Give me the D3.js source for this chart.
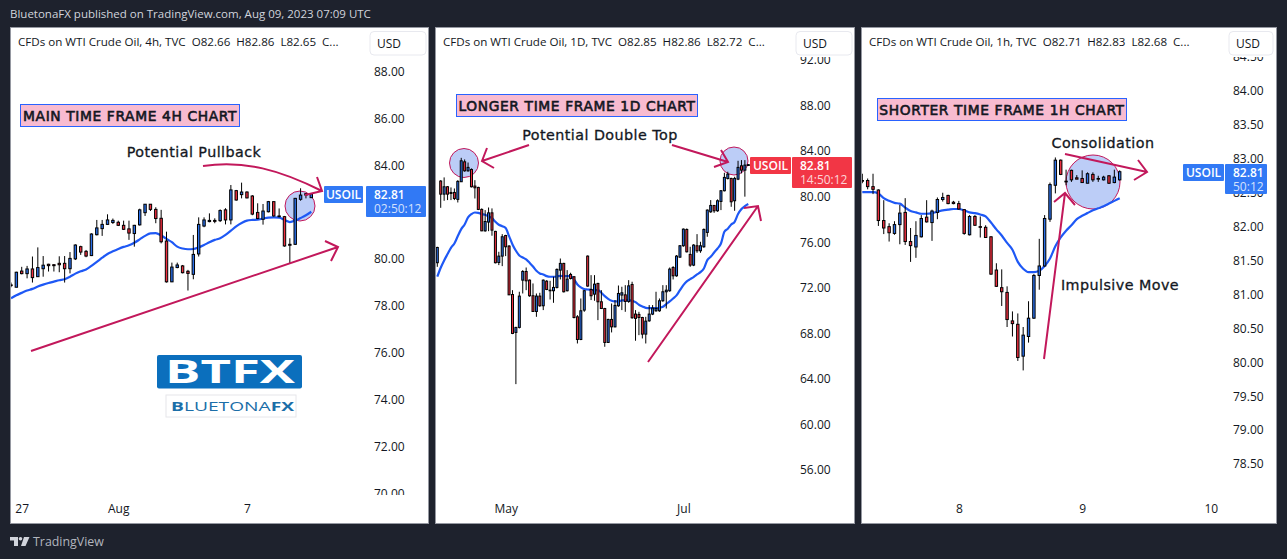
<!DOCTYPE html>
<html>
<head>
<meta charset="utf-8">
<script src="https://cdnjs.cloudflare.com/ajax/libs/d3/7.8.5/d3.min.js"></script>
<style>
    html, body { margin: 0; padding: 0; background: #1e222d; overflow: hidden; }
    text { font-family: "Open Sans", sans-serif; }
    .note { font-family: "DejaVu Sans", sans-serif; fill: #131722; }
    .legend { white-space: pre; }
</style>
</head>
<body>
<div id="chart"></div>
<script>
// candles are [open, high, low, close]
const candles4h = [[78.90,79.00,78.80,78.87],[78.80,79.46,78.80,79.44],[79.49,79.67,79.35,79.38],[79.38,79.71,79.18,79.58],[79.58,80.11,79.00,79.21],[79.25,80.50,79.24,79.64],[79.59,80.13,79.25,79.74],[79.78,79.80,79.47,79.72],[79.76,79.79,79.47,79.72],[79.82,80.12,79.44,79.76],[79.82,80.13,79.00,79.59],[79.59,80.30,79.39,80.03],[80.01,80.63,79.96,80.60],[80.53,80.57,80.18,80.30],[80.33,80.39,80.08,80.13],[80.15,81.10,80.13,81.07],[81.04,81.67,81.01,81.33],[81.30,81.67,80.99,81.48],[81.48,81.91,81.46,81.67],[81.56,81.73,81.50,81.65],[81.57,81.64,81.41,81.44],[81.44,81.64,81.24,81.27],[81.29,81.64,80.82,81.11],[81.09,81.46,80.53,81.44],[81.46,82.15,81.43,82.10],[81.98,82.35,81.84,82.34],[82.34,82.35,82.05,82.12],[82.12,82.21,81.53,81.73],[81.74,82.10,80.67,80.74],[80.77,81.17,79.00,79.03],[79.03,79.85,79.02,79.66],[79.64,79.85,79.61,79.75],[79.71,79.75,79.39,79.42],[79.48,79.54,78.66,79.39],[79.35,81.03,79.14,80.20],[80.22,81.78,80.11,81.48],[81.41,81.78,81.36,81.67],[81.60,81.95,81.57,81.65],[81.65,81.74,81.53,81.61],[81.64,82.12,81.58,82.07],[82.10,82.17,81.48,81.67],[81.67,83.16,81.48,82.95],[82.92,82.95,82.49,82.52],[82.75,83.26,82.59,82.86],[82.86,82.89,82.59,82.61],[82.69,82.73,81.87,81.92],[81.99,82.38,81.70,81.73],[81.70,82.35,81.47,82.05],[82.02,82.48,81.99,82.45],[82.45,82.46,81.81,81.84],[81.84,82.16,81.78,81.81],[81.81,81.84,80.53,80.56],[80.63,80.89,79.82,80.59],[80.63,82.61,80.60,82.59],[82.55,83.02,82.49,82.73],[82.79,82.81,82.59,82.73],[82.62,82.81,82.61,82.78]];
const ema4h = [78.33,78.46,78.56,78.66,78.73,78.83,78.91,78.98,79.04,79.10,79.14,79.25,79.38,79.48,79.56,79.71,79.88,80.06,80.22,80.33,80.43,80.52,80.59,80.70,80.84,80.99,81.10,81.11,81.01,80.86,80.72,80.53,80.45,80.42,80.43,80.50,80.60,80.72,80.82,80.89,81.03,81.21,81.40,81.54,81.64,81.67,81.68,81.73,81.77,81.78,81.77,81.67,81.58,81.64,81.75,81.87,82.02];
const priceTicks4h = [88, 86, 84, 80, 78, 76, 74, 72, 70];
const timeTickIndex4h = [2, 20, 44];
const timeTickLabels4h = ["27", "Aug", "7"];

const candles1d = [[74.20,75.60,73.84,75.54],[81.37,81.45,79.02,80.22],[80.22,81.69,79.64,80.87],[80.87,80.93,79.70,80.22],[80.37,80.81,79.70,80.28],[80.37,80.72,79.70,79.84],[79.76,81.45,79.49,81.34],[81.31,83.41,81.31,83.15],[83.06,83.27,82.19,82.27],[82.27,83.00,82.19,82.57],[82.39,82.48,80.81,80.87],[80.93,81.45,79.84,80.78],[80.81,80.87,78.82,78.88],[78.88,78.97,76.97,77.00],[77.00,78.82,76.92,77.82],[77.77,79.05,76.97,78.58],[78.58,78.97,76.57,77.06],[76.95,77.00,74.14,74.20],[74.22,75.16,73.99,74.78],[74.78,76.71,73.90,76.48],[76.59,76.65,74.78,75.60],[75.66,75.75,71.36,71.38],[71.41,71.79,67.93,67.99],[68.08,68.57,63.54,68.52],[68.52,71.65,68.43,71.27],[72.67,73.55,71.50,73.43],[73.43,73.78,71.79,72.61],[72.67,72.73,71.21,71.30],[71.30,72.38,69.89,69.92],[69.92,71.50,69.45,71.27],[71.27,71.56,70.33,70.42],[70.42,72.73,70.04,72.67],[72.58,72.67,71.79,71.85],[71.79,72.61,70.97,71.74],[71.74,72.97,70.68,72.03],[72.03,73.70,71.94,73.61],[73.55,74.57,72.73,74.14],[74.14,74.19,71.59,71.65],[71.74,73.55,71.68,72.76],[73.17,73.32,72.73,72.82],[72.97,73.02,69.31,69.39],[69.45,69.60,67.11,67.46],[67.46,71.06,67.40,69.98],[70.04,71.79,69.89,71.74],[74.78,74.84,72.09,72.15],[71.85,73.11,70.92,71.30],[71.44,73.11,70.86,72.32],[72.38,72.44,69.16,70.77],[70.77,71.79,70.13,70.18],[70.18,70.24,66.82,67.20],[67.20,69.28,67.17,69.22],[69.22,70.62,68.08,68.57],[68.57,70.92,68.52,70.45],[70.42,72.20,70.33,71.50],[71.36,72.09,70.04,71.56],[71.38,72.23,69.89,70.80],[70.80,72.67,70.68,72.17],[72.29,72.53,69.28,69.37],[69.69,70.04,67.35,69.31],[69.66,69.89,67.84,69.39],[69.39,69.45,67.55,67.93],[67.93,69.45,67.11,69.07],[69.10,70.48,69.01,69.69],[69.69,70.48,69.60,70.21],[69.98,71.65,69.89,70.18],[69.98,71.06,69.89,70.86],[70.86,72.23,70.77,71.65],[71.65,72.23,70.18,71.79],[71.74,73.78,71.65,73.64],[73.78,73.90,72.73,73.05],[73.05,74.87,72.97,74.78],[74.69,75.75,74.63,75.69],[75.69,77.21,75.60,77.15],[77.12,77.21,75.10,75.16],[74.93,75.60,73.84,73.99],[73.99,75.83,73.90,75.75],[75.69,76.71,75.07,75.25],[75.25,76.04,75.07,75.69],[75.60,77.21,75.51,77.12],[76.86,78.88,76.48,78.82],[78.67,79.70,78.58,79.23],[79.23,79.26,78.58,78.76],[78.76,79.76,78.67,79.64],[79.58,80.58,78.82,80.52],[80.52,82.10,80.46,81.69],[81.60,82.19,81.51,81.98],[81.60,81.66,79.11,79.55],[79.64,81.75,78.76,81.60],[81.54,83.15,81.45,82.57],[82.71,83.21,82.04,82.33],[82.33,83.21,80.00,82.77],[82.74,82.86,82.72,82.81]];
const ema1d = [72.97,73.76,74.40,74.96,75.51,75.89,76.54,77.15,77.56,78.18,78.47,78.61,78.58,78.47,78.41,78.26,78.12,77.79,77.53,77.41,77.24,76.54,75.80,75.25,74.84,74.66,74.49,74.19,73.87,73.49,73.26,73.17,73.02,72.97,72.97,72.99,73.05,73.02,73.02,73.02,72.73,72.29,72.03,71.88,71.85,71.82,71.79,71.79,71.56,71.27,71.03,70.86,70.80,70.80,70.89,70.89,70.92,70.86,70.74,70.51,70.36,70.24,70.21,70.21,70.21,70.24,70.33,70.57,70.80,71.06,71.33,71.79,72.23,72.56,72.76,72.94,73.17,73.37,73.70,74.43,74.72,75.10,75.45,75.89,76.92,77.18,77.56,77.79,78.47,78.91,79.17,79.35];
const priceTicks1d = [92, 88, 84, 80, 76, 72, 68, 64, 60, 56];
const timeTickIndex1d = [20, 72];
const timeTickLabels1d = ["May", "Jul"];

const candles1h = [[82.68,82.78,82.64,82.67],[82.68,82.71,82.55,82.59],[82.59,82.78,82.48,82.55],[82.54,82.55,82.01,82.09],[82.09,82.39,81.89,81.98],[82.00,82.05,81.78,81.91],[81.90,82.08,81.88,82.03],[82.03,82.32,81.74,82.20],[82.21,82.42,81.73,81.78],[81.78,81.98,81.48,81.72],[81.70,82.08,81.54,81.87],[81.85,82.17,81.84,82.12],[82.14,82.39,82.06,82.07],[82.06,82.25,81.79,82.23],[82.21,82.43,82.11,82.40],[82.40,82.50,82.37,82.43],[82.46,82.47,82.33,82.34],[82.36,82.38,82.33,82.34],[82.34,82.38,82.25,82.26],[82.25,82.26,81.88,81.90],[81.88,82.17,81.87,82.15],[82.15,82.17,82.01,82.02],[82.00,82.15,81.84,81.99],[81.99,82.02,81.84,81.84],[81.85,81.86,81.29,81.30],[81.36,81.46,81.11,81.12],[81.10,81.37,80.83,81.04],[81.03,81.12,80.52,80.63],[80.61,80.75,80.38,80.57],[80.56,80.72,80.02,80.07],[80.09,80.52,79.88,80.40],[80.38,80.90,80.29,80.65],[80.65,81.30,80.64,81.28],[81.28,81.82,81.07,81.42],[81.42,82.17,81.41,82.12],[82.11,82.65,82.07,82.62],[82.61,83.02,82.49,82.98],[82.98,82.99,82.76,82.77],[82.66,82.84,82.61,82.67],[82.83,82.84,82.66,82.69],[82.72,82.76,82.70,82.70],[82.71,82.83,82.65,82.65],[82.64,82.80,82.64,82.78],[82.77,82.80,82.66,82.69],[82.71,82.75,82.66,82.70],[82.69,82.75,82.68,82.73],[82.75,82.76,82.63,82.64],[82.65,82.84,82.64,82.73],[82.69,82.83,82.68,82.81]];
const ema1h = [82.51,82.51,82.51,82.49,82.42,82.38,82.35,82.34,82.28,82.23,82.21,82.19,82.19,82.20,82.22,82.24,82.25,82.26,82.26,82.24,82.21,82.20,82.18,82.15,82.06,81.96,81.87,81.76,81.66,81.48,81.38,81.33,81.33,81.35,81.42,81.53,81.71,81.84,81.94,82.02,82.11,82.16,82.20,82.24,82.27,82.30,82.34,82.38,82.42];
const priceTicks1h = [84.5, 84, 83.5, 83, 82.5, 82, 81.5, 81, 80.5, 80, 79.5, 79, 78.5];
const timeTickIndex1h = [18, 41, 65];
const timeTickLabels1h = ["8", "9", "10"];

const width = 1287,
    height = 559;

const blue = "#2962ff",
    emaBlue = "#1e58f5",
    candleBlue = "#2a6fe8",
    candleRed = "#ef2f3f",
    red = "#f23645",
    arrowColor = "#c2185b",
    circleFill = "#bccdf7";

// create svg
const svg = d3.select("#chart")
    .append("svg")
    .attr("width", width)
    .attr("height", height)
    .style("display", "block");

svg.append("text")
    .attr("x", 10)
    .attr("y", 18)
    .attr("font-size", 11.5)
    .attr("fill", "#d1d4dc")
    .text("BluetonaFX published on TradingView.com, Aug 09, 2023 07:09 UTC");

// one TradingView pane
function drawPane(p, i) {
    const g = svg.append("g").attr("class", "pane");

    g.append("rect")
        .attr("x", p.left + 0.5)
        .attr("y", 27.5)
        .attr("width", p.right - p.left - 1)
        .attr("height", 496)
        .attr("fill", "#fff")
        .attr("stroke", "#9598a1");

    const xScale = d3.scaleLinear()
        .domain([0, p.candles.length - 1])
        .range(p.xRange);

    const yScale = d3.scaleLinear()
        .domain(p.yDomain)
        .range(p.yRange);

    const clipId = "clip-" + i;
    svg.append("clipPath")
        .attr("id", clipId)
        .append("rect")
        .attr("x", p.left + 1)
        .attr("y", 57)
        .attr("width", p.right - p.left - 2)
        .attr("height", 438);

    // highlight circles sit under the candles
    const plot = g.append("g").attr("clip-path", `url(#${clipId})`);
    p.circles.forEach(c => {
        plot.append("circle")
            .attr("cx", c[0])
            .attr("cy", c[1])
            .attr("r", c[2])
            .attr("fill", circleFill)
            .attr("stroke", arrowColor)
            .attr("stroke-width", 1);
    });

    // ema
    const line = d3.line()
        .x((d, j) => xScale(j))
        .y(d => yScale(d))
        .curve(d3.curveMonotoneX);
    plot.append("path")
        .attr("d", line(p.ema))
        .attr("fill", "none")
        .attr("stroke", emaBlue)
        .attr("stroke-width", 2.2);

    // candles
    const candle = plot.selectAll(".candle")
        .data(p.candles)
        .enter()
        .append("g")
        .attr("class", "candle");
    candle.append("line")
        .attr("x1", (d, j) => xScale(j))
        .attr("x2", (d, j) => xScale(j))
        .attr("y1", d => yScale(d[1]))
        .attr("y2", d => yScale(d[2]))
        .attr("stroke", "#000")
        .attr("stroke-width", 1);
    candle.append("rect")
        .attr("x", (d, j) => xScale(j) - p.bodyWidth / 2)
        .attr("y", d => yScale(Math.max(d[0], d[3])))
        .attr("width", p.bodyWidth)
        .attr("height", d => Math.max(0.6, Math.abs(yScale(d[0]) - yScale(d[3]))))
        .attr("fill", d => d[3] >= d[0] ? candleBlue : candleRed)
        .attr("stroke", "#000")
        .attr("stroke-width", 1);

    // axes
    const yAxis = d3.axisRight(yScale)
        .tickValues(p.priceTicks)
        .tickFormat(d3.format(".2f"))
        .tickSize(0)
        .tickPadding(0);
    const yGroup = g.append("g")
        .attr("clip-path", `url(#${clipId})`)
        .append("g")
        .attr("transform", `translate(${p.axisX},0)`)
        .call(yAxis);
    yGroup.select(".domain").remove();
    yGroup.selectAll("text")
        .attr("font-size", 12)
        .attr("font-family", "Open Sans")
        .attr("fill", "#131722");

    const xAxis = d3.axisBottom(xScale)
        .tickValues(p.timeIndex)
        .tickFormat((d, j) => p.timeLabels[j])
        .tickSize(0)
        .tickPadding(0);
    const xGroup = g.append("g")
        .attr("transform", "translate(0,504)")
        .call(xAxis);
    xGroup.select(".domain").remove();
    xGroup.selectAll("text")
        .attr("font-size", 12)
        .attr("font-family", "Open Sans")
        .attr("fill", "#131722");

    // legend line
    g.append("text")
        .attr("class", "legend")
        .attr("x", p.legendX)
        .attr("y", 46)
        .attr("font-size", 11.6)
        .attr("fill", "#131722")
        .text(p.legend);

    // currency button
    g.append("rect")
        .attr("x", p.usd[0])
        .attr("y", 31.5)
        .attr("width", p.usd[1])
        .attr("height", 23.5)
        .attr("rx", 4)
        .attr("fill", "#fff")
        .attr("stroke", "#e8e9ef");
    g.append("text")
        .attr("x", p.usd[2])
        .attr("y", 48)
        .attr("text-anchor", "middle")
        .attr("font-size", 12)
        .attr("fill", "#131722")
        .text("USD");

    // title box
    g.append("rect")
        .attr("x", p.title[0])
        .attr("y", p.title[1])
        .attr("width", p.title[2])
        .attr("height", 22)
        .attr("fill", "#f8bbd0")
        .attr("stroke", blue)
        .attr("stroke-width", 1);
    g.append("text")
        .attr("class", "note")
        .attr("x", p.title[0] + p.title[2] / 2)
        .attr("y", p.title[1] + 16)
        .attr("text-anchor", "middle")
        .attr("font-size", 13.8)
        .attr("letter-spacing", 0.62)
        .attr("stroke", "#131722")
        .attr("stroke-width", 0.6)
        .text(p.titleText);

    // notes
    p.notes.forEach(n => {
        g.append("text")
            .attr("class", "note")
            .attr("x", n[1])
            .attr("y", n[2])
            .attr("text-anchor", "middle")
            .attr("font-size", 14.3)
            .attr("letter-spacing", 0.45)
            .attr("stroke", "#131722")
            .attr("stroke-width", 0.3)
            .text(n[0]);
    });

    // arrows, each one a shaft and a head
    p.arrows.forEach(a => {
        g.append("path")
            .attr("d", a)
            .attr("fill", "none")
            .attr("stroke", arrowColor)
            .attr("stroke-width", 2);
    });

    // last price tags
    const tagColor = p.tag.color;
    g.append("rect")
        .attr("x", p.tag.name[0])
        .attr("y", p.tag.y)
        .attr("width", p.tag.name[1])
        .attr("height", 17)
        .attr("rx", 1)
        .attr("fill", tagColor);
    g.append("text")
        .attr("x", p.tag.name[0] + p.tag.name[1] / 2)
        .attr("y", p.tag.y + 13)
        .attr("text-anchor", "middle")
        .attr("font-size", 12)
        .attr("font-weight", 600)
        .attr("fill", "#fff")
        .text("USOIL");
    g.append("rect")
        .attr("x", p.tag.price[0])
        .attr("y", p.tag.y)
        .attr("width", p.tag.price[1])
        .attr("height", p.tag.height)
        .attr("rx", 1)
        .attr("fill", tagColor);
    g.append("text")
        .attr("x", p.axisX)
        .attr("y", p.tag.y + 13)
        .attr("font-size", 12)
        .attr("font-weight", 600)
        .attr("fill", "#fff")
        .text("82.81");
    g.append("text")
        .attr("x", p.axisX)
        .attr("y", p.tag.y + 27)
        .attr("font-size", 12)
        .attr("fill", "#fff")
        .attr("fill-opacity", 0.8)
        .text(p.tag.timer);
}

const panes = [
    {
        left: 10, right: 429, candles: candles4h, ema: ema4h,
        xRange: [11, 311.3], yDomain: [88, 70], yRange: [71.5, 493.6],
        priceTicks: priceTicks4h, timeIndex: timeTickIndex4h, timeLabels: timeTickLabels4h,
        bodyWidth: 2.4, axisX: 374, legendX: 18,
        legend: "CFDs on WTI Crude Oil, 4h, TVC  O82.66  H82.86  L82.65  C...",
        usd: [370, 56, 389],
        title: [20.5, 104.5, 219], titleText: "MAIN TIME FRAME 4H CHART",
        notes: [["Potential Pullback", 194, 157]],
        circles: [[300, 206, 15]],
        arrows: [
            "M203,166 C245,160 280,170 322,191 M317,177 L322,191 L305,195",
            "M31,351 L338,247 M325,241 L338,247 L331,261"
        ],
        tag: { color: "#3179f5", y: 186, height: 31, name: [324, 39], price: [366, 60], timer: "02:50:12" }
    },
    {
        left: 435, right: 855, candles: candles1d, ema: ema1d,
        xRange: [437.3, 748.3], yDomain: [92, 56], yRange: [60, 470],
        priceTicks: priceTicks1d, timeIndex: timeTickIndex1d, timeLabels: timeTickLabels1d,
        bodyWidth: 2, axisX: 800, legendX: 443,
        legend: "CFDs on WTI Crude Oil, 1D, TVC  O82.85  H82.86  L82.72  C...",
        usd: [796, 56, 815],
        title: [456.5, 94.5, 241], titleText: "LONGER TIME FRAME 1D CHART",
        notes: [["Potential Double Top", 600, 140]],
        circles: [[464, 163, 14.5], [734, 161, 14]],
        arrows: [
            "M529,145 L482,161 M487,148 L482,161 L494,168",
            "M672,145 L728,162 M721,150 L728,162 L714,167",
            "M648,362 L758,206 M744,208 L758,206 L761,221"
        ],
        tag: { color: red, y: 157, height: 31, name: [750, 41], price: [792, 60], timer: "14:50:12" }
    },
    {
        left: 861, right: 1277, candles: candles1h, ema: ema1h,
        xRange: [862.3, 1119.7], yDomain: [84, 78.5], yRange: [91, 464],
        priceTicks: priceTicks1h, timeIndex: timeTickIndex1h, timeLabels: timeTickLabels1h,
        bodyWidth: 2.4, axisX: 1233, legendX: 869,
        legend: "CFDs on WTI Crude Oil, 1h, TVC  O82.71  H82.83  L82.68  C...",
        usd: [1229, 44, 1248],
        title: [877.5, 98.5, 249], titleText: "SHORTER TIME FRAME 1H CHART",
        notes: [["Consolidation", 1103, 148], ["Impulsive Move", 1120, 290]],
        circles: [[1093, 182, 27]],
        arrows: [
            "M1065,154 L1147,172 M1138,160 L1147,172 L1134,180",
            "M1044,359 L1065,193 M1054,202 L1065,193 L1075,205"
        ],
        tag: { color: "#3179f5", y: 164, height: 30, name: [1183, 41], price: [1225, 42], timer: "50:12" }
    }
];

panes.forEach(drawPane);

// brand logos on the first pane
const logo = svg.append("g");
logo.append("rect")
    .attr("x", 157).attr("y", 355)
    .attr("width", 145).attr("height", 33.5)
    .attr("rx", 2)
    .attr("fill", "#0b6fbd");
logo.append("text")
    .attr("x", 165).attr("y", 383)
    .attr("textLength", 130)
    .attr("lengthAdjust", "spacingAndGlyphs")
    .attr("font-size", 33)
    .attr("font-weight", 700)
    .attr("font-family", "Liberation Sans")
    .attr("fill", "#fff")
    .text("BTFX");
logo.append("rect")
    .attr("x", 166).attr("y", 395)
    .attr("width", 130).attr("height", 22)
    .attr("fill", "#fff")
    .attr("stroke", "#e6e6ea");
const logoText = logo.append("text")
    .attr("x", 171).attr("y", 411)
    .attr("textLength", 123)
    .attr("lengthAdjust", "spacingAndGlyphs")
    .attr("font-size", 13)
    .attr("font-family", "Liberation Sans")
    .attr("fill", "#1b6ea8");
logoText.append("tspan").attr("font-weight", 700).text("B");
logoText.append("tspan").text("LUETONA");
logoText.append("tspan").attr("font-weight", 700).text("FX");

// footer mark
const footer = svg.append("g");
footer.append("path")
    .attr("d", "M10,537 H18 V546 H14 V540.5 H10 Z M24,537 H29.5 L25.5,546 H21 Z")
    .attr("fill", "#d1d4dc");
footer.append("circle")
    .attr("cx", 20.5).attr("cy", 538.8).attr("r", 1.8)
    .attr("fill", "#d1d4dc");
footer.append("text")
    .attr("x", 33).attr("y", 546)
    .attr("font-size", 12.4)
    .attr("fill", "#b2b5be")
    .text("TradingView");
</script>
</body>
</html>
